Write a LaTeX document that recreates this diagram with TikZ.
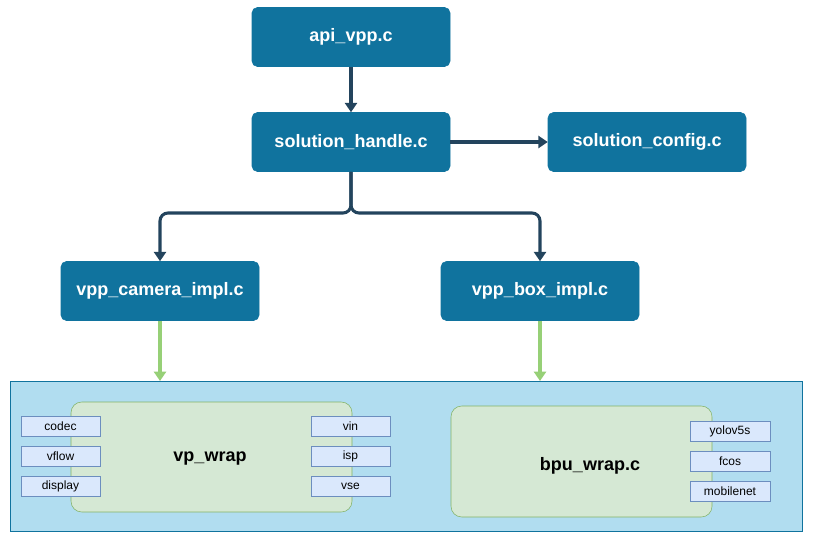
\documentclass[tikz,border=0pt]{standalone}
\usepackage{fontspec}
\setmainfont{Liberation Sans}
\usetikzlibrary{arrows.meta}
\definecolor{db}{HTML}{10739E}
\definecolor{ar}{HTML}{23445D}
\definecolor{gr}{HTML}{97D077}
\begin{document}
\begin{tikzpicture}[x=0.75pt,y=-0.75pt,
 main/.style={draw=db,fill=db,rounded corners=4pt,minimum width=198*0.75pt,minimum height=59*0.75pt,text=white,font=\bfseries\fontsize{13.5}{15}\selectfont},
 arr/.style={draw=ar,line width=2.3pt,-{Triangle[length=7pt,width=9pt]}},
 garr/.style={draw=gr,line width=2.3pt,-{Triangle[length=7pt,width=9pt]}},
 wrap/.style={draw=green!40!black!50!gr,draw=gr!60!black!60,fill=green!8!gray!10,fill={rgb,255:red,213;green,232;blue,212},draw={rgb,255:red,130;green,179;blue,102},rounded corners=8pt,font=\bfseries\fontsize{13.5}{15}\selectfont},
 sm/.style={draw={rgb,255:red,108;green,142;blue,191},fill={rgb,255:red,218;green,232;blue,252},minimum width=79*0.75pt,minimum height=20*0.75pt,inner sep=0pt,font=\fontsize{9}{10}\selectfont}]
\useasboundingbox (0,0) rectangle (813,542);
\node[main] (api) at (351,37) {api\_vpp.c};
\node[main] (sh) at (351,142) {solution\_handle.c};
\node[main] (sc) at (647,142) {solution\_config.c};
\node[main] (cam) at (160,291) {vpp\_camera\_impl.c};
\node[main] (box) at (540,291) {vpp\_box\_impl.c};
\draw[arr] (api) -- (sh);
\draw[arr] (sh) -- (sc);
\draw[arr,rounded corners=6pt] (sh.south) -- (351,213) -- (160,213) -- (cam.north);
\draw[arr,rounded corners=6pt] (sh.south) -- (351,213) -- (540,213) -- (box.north);
\node[draw=db,fill={rgb,255:red,177;green,221;blue,240},minimum width=792*0.75pt,minimum height=150*0.75pt,inner sep=0pt] (bg) at (406,456) {};
\coordinate (t1) at (160,381);
\coordinate (t2) at (540,381);
\draw[garr] (cam) -- (t1);
\draw[garr] (box) -- (t2);
\node[wrap,minimum width=281*0.75pt,minimum height=110*0.75pt] (vp) at (211.5,457) {};
\node at (210,459) [font=\bfseries\fontsize{13.5}{15}\selectfont] {vp\_wrap};
\node[wrap,minimum width=261*0.75pt,minimum height=111*0.75pt] (bpu) at (581.5,461.5) {};
\node at (590,466) [font=\bfseries\fontsize{13.5}{15}\selectfont] {bpu\_wrap.c};
\node[sm] (codec) at (60.5,426) {codec};
\node[sm] (vflow) at (60.5,456) {vflow};
\node[sm] (disp) at (60.5,486) {display};
\node[sm] (vin) at (350.5,426) {vin};
\node[sm] (isp) at (350.5,456) {isp};
\node[sm] (vse) at (350.5,486) {vse};
\node[sm,minimum width=80*0.75pt] (yolo) at (730,431) {yolov5s};
\node[sm,minimum width=80*0.75pt] (fcos) at (730,461) {fcos};
\node[sm,minimum width=80*0.75pt] (mob) at (730,491) {mobilenet};
\end{tikzpicture}
\end{document}
